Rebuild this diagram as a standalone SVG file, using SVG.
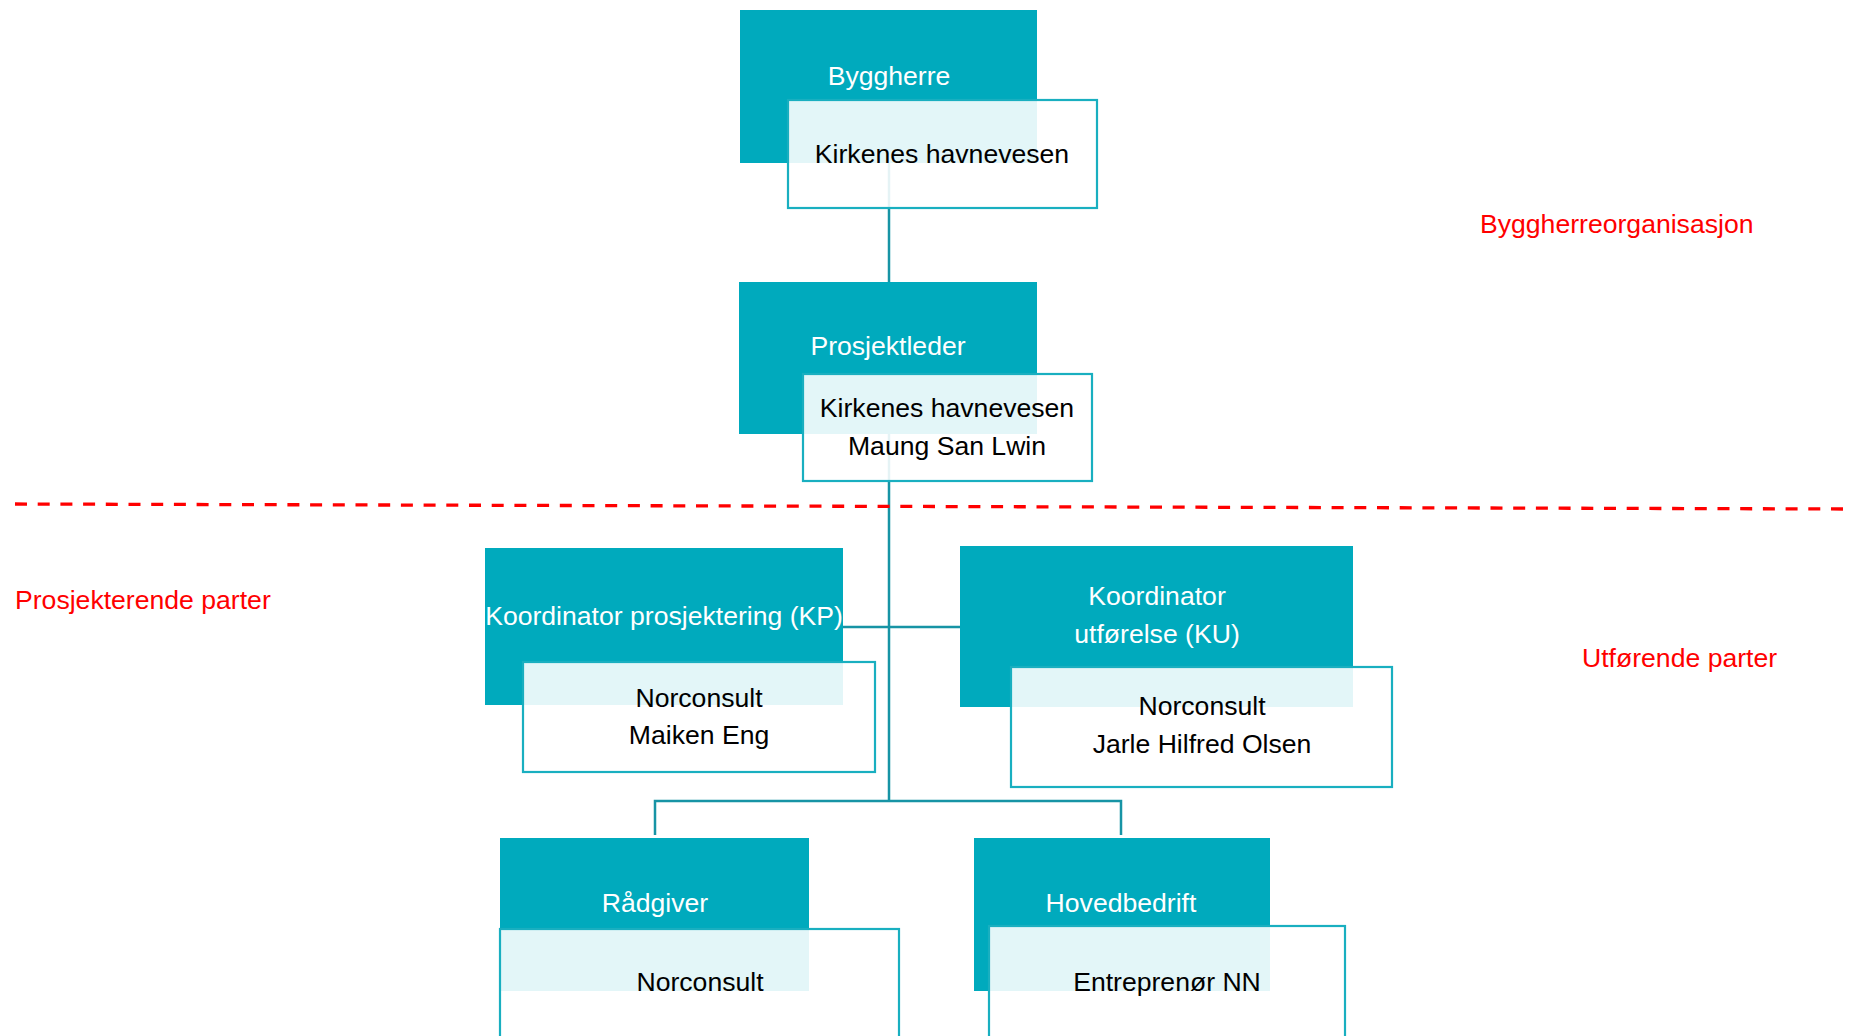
<svg xmlns="http://www.w3.org/2000/svg" width="1851" height="1036" viewBox="0 0 1851 1036">
<style>
.hd{fill:#00AABD}
.bx{fill:#ffffff;fill-opacity:0.89;stroke:#19AFC0;stroke-width:2.2}
.ht{font-family:"Liberation Sans",Arial,sans-serif;font-size:26.6px;fill:#ffffff;text-anchor:middle}
.bt{font-family:"Liberation Sans",Arial,sans-serif;font-size:26.6px;fill:#000000;text-anchor:middle}
.rt{font-family:"Liberation Sans",Arial,sans-serif;font-size:26.6px;fill:#ff0000}
.cn{fill:none;stroke:#1794A5;stroke-width:2.5}
</style>
<rect width="1851" height="1036" fill="#ffffff"/>
<g id="connectors">
<path class="cn" d="M889,163 V282"/>
<path class="cn" d="M889,434 V801"/>
<path class="cn" d="M843,627 H960"/>
<path class="cn" d="M655,835 V801 H1121 V835"/>
</g>
<line x1="15" y1="504" x2="1851" y2="509" stroke="#ff0000" stroke-width="3.3" stroke-dasharray="12,10.7"/>
<g id="byggherre">
<rect class="hd" x="740" y="10" width="297" height="153"/>
<text class="ht" x="889" y="85">Byggherre</text>
<rect class="bx" x="788" y="100" width="309" height="108"/>
<text class="bt" x="942" y="163">Kirkenes havnevesen</text>
</g>
<g id="prosjektleder">
<rect class="hd" x="739" y="282" width="298" height="152"/>
<text class="ht" x="888" y="355">Prosjektleder</text>
<rect class="bx" x="803" y="374" width="289" height="107"/>
<text class="bt" x="947" y="417">Kirkenes havnevesen</text>
<text class="bt" x="947" y="455">Maung San Lwin</text>
</g>
<g id="kp">
<rect class="hd" x="485" y="548" width="358" height="157"/>
<text class="ht" x="664" y="625">Koordinator prosjektering (KP)</text>
<rect class="bx" x="523" y="662" width="352" height="110"/>
<text class="bt" x="699" y="707">Norconsult</text>
<text class="bt" x="699" y="744">Maiken Eng</text>
</g>
<g id="ku">
<rect class="hd" x="960" y="546" width="393" height="161"/>
<text class="ht" x="1157" y="605">Koordinator</text>
<text class="ht" x="1157" y="643">utførelse (KU)</text>
<rect class="bx" x="1011" y="667" width="381" height="120"/>
<text class="bt" x="1202" y="715">Norconsult</text>
<text class="bt" x="1202" y="753">Jarle Hilfred Olsen</text>
</g>
<g id="radgiver">
<rect class="hd" x="500" y="838" width="309" height="153"/>
<text class="ht" x="655" y="912">Rådgiver</text>
<rect class="bx" x="500" y="929" width="399" height="160"/>
<text class="bt" x="700" y="991">Norconsult</text>
</g>
<g id="hovedbedrift">
<rect class="hd" x="974" y="838" width="296" height="153"/>
<text class="ht" x="1121" y="912">Hovedbedrift</text>
<rect class="bx" x="989" y="926" width="356" height="160"/>
<text class="bt" x="1167" y="991">Entreprenør NN</text>
</g>
<g id="labels">
<text class="rt" x="1480" y="233">Byggherreorganisasjon</text>
<text class="rt" x="15" y="609">Prosjekterende parter</text>
<text class="rt" x="1582" y="667">Utførende parter</text>
</g>
</svg>
